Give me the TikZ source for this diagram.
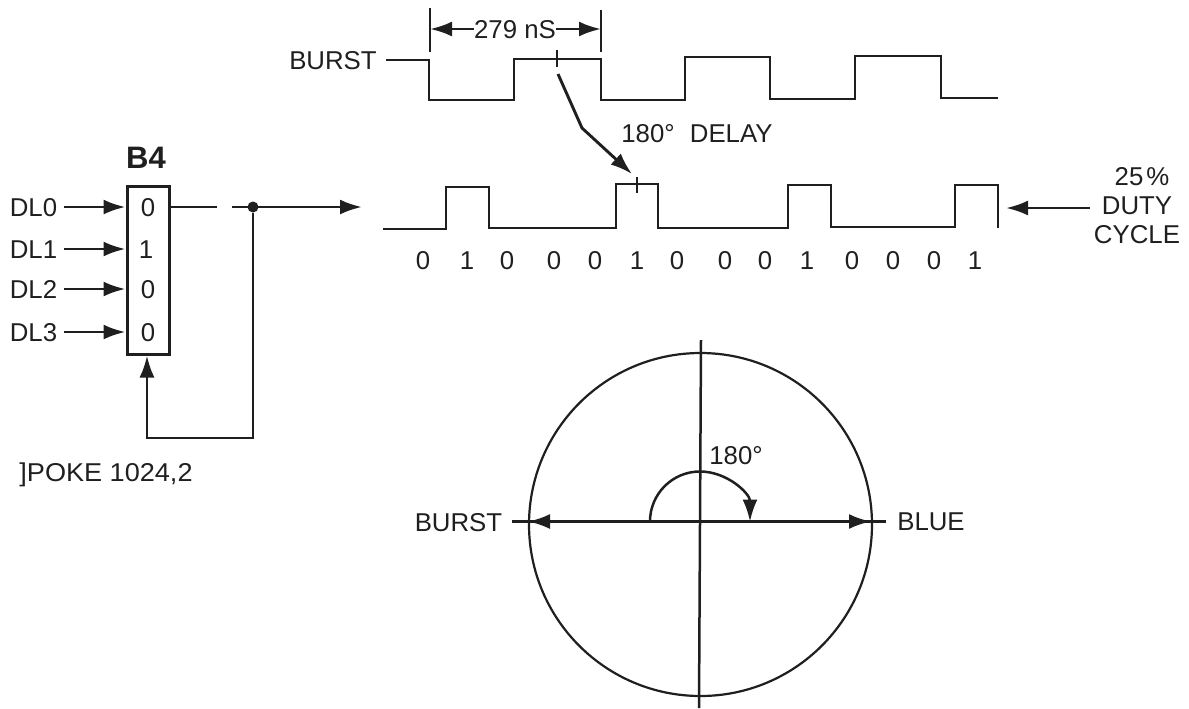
\documentclass[tikz,border=0pt]{standalone}
\usepackage{fontspec}
\setmainfont{Liberation Sans}
\usepackage{xcolor}
\usetikzlibrary{arrows.meta,positioning,calc}
\definecolor{tinta}{gray}{0.12}
\tikzset{
    rotulo/.style={
        inner sep=0pt,
        text=tinta,
        font=\fontsize{12.9}{14.5}\selectfont,
        text height=9.2pt,
        text depth=0pt
    },
    bloco/.style={
        rectangle,
        draw=tinta,
        line width=1.5pt,
        inner sep=0pt
    },
    linha/.style={draw=tinta, line width=1.45pt},
    onda/.style={linha, line join=miter},
    fina/.style={draw=tinta, line width=1.1pt},
    seta/.style={linha, -{Latex[length=11pt,width=7.5pt]}},
    ponto/.style={circle, fill=tinta, inner sep=0pt, minimum size=5.5pt}
}
\begin{document}
\begin{tikzpicture}[x=0.5pt,y=-0.5pt]

        \useasboundingbox (0,0) rectangle (1189,708);

        % burst waveform
        \node[rotulo] (burst) at (333,60) {BURST};
        \node[rotulo] (periodo) at (515,29) {279 nS};
        \node[rotulo] (atraso) at (697,133) {180°\hspace{4pt} DELAY};

        \coordinate (tickA1) at (430,8);
        \coordinate (tickA2) at (430,52);
        \coordinate (tickB1) at (601,10);
        \coordinate (tickB2) at (601,52);
        \coordinate (marcaA1) at (557,50);
        \coordinate (marcaA2) at (557,67);
        \coordinate (marcaB1) at (637,177);
        \coordinate (marcaB2) at (637,193);

        \draw[onda] (386,60) -- (429,60) -- (429,100) -- (514,100) -- (514,59)
            -- (601,59) -- (601,100) -- (685,100) -- (685,57) -- (770,57)
            -- (770,99) -- (855,99) -- (855,56) -- (941,56) -- (941,98) -- (998,98);

        \draw[linha] (tickA1) -- (tickA2);
        \draw[linha] (tickB1) -- (tickB2);
        \draw[seta] (periodo.west) -- (tickA1 |- periodo);
        \draw[seta] (periodo.east) -- (tickB1 |- periodo);
        \draw[linha] (marcaA1) -- (marcaA2);
        \draw[linha] (marcaB1) -- (marcaB2);

        \coordinate (saidaA) at (558,74);
        \coordinate (dobra) at (582,128);
        \coordinate (chegaA) at (632,174);
        \draw[seta] (saidaA) -- (dobra) -- (chegaA);

        % duty cycle waveform
        \draw[onda] (383,229) -- (446,229) -- (446,187) -- (489,187) -- (489,228)
            -- (616,228) -- (616,184) -- (658,184) -- (658,228) -- (788,228)
            -- (788,185) -- (831,185) -- (831,227) -- (955,227) -- (955,185)
            -- (998,185) -- (998,228);

        \node[rotulo] (b0) at (423,260) {0};
        \node[rotulo] (b1) at (467,260) {1};
        \node[rotulo] (b2) at (507,260) {0};
        \node[rotulo] (b3) at (554,260) {0};
        \node[rotulo] (b4) at (595,260) {0};
        \node[rotulo] (b5) at (637,260) {1};
        \node[rotulo] (b6) at (677,260) {0};
        \node[rotulo] (b7) at (725,260) {0};
        \node[rotulo] (b8) at (765,260) {0};
        \node[rotulo] (b9) at (807,260) {1};
        \node[rotulo] (b10) at (852,260) {0};
        \node[rotulo] (b11) at (893,260) {0};
        \node[rotulo] (b12) at (934,260) {0};
        \node[rotulo] (b13) at (975,260) {1};

        \node[rotulo, align=center, text height=, text depth=] (duty) at (1137,206)
        {\hspace*{5pt}25\kern1.5pt\%\\DUTY\\CYCLE};
        \coordinate (dutyFim) at (1006,208);
        \draw[seta] ($(duty.west |- dutyFim)+(-4,0)$) -- (dutyFim);

        % B4 latch
        \node[bloco, minimum width=21pt, minimum height=84pt] (latch) at (148,270) {};
        \node[rotulo, font=\fontsize{15.5}{17}\bfseries, text height=11pt] (titulo) at (146,157) {B4};

        \node[rotulo] (dl0) at (33.5,207) {DL0};
        \node[rotulo] (dl1) at (33.5,249) {DL1};
        \node[rotulo] (dl2) at (33.5,289) {DL2};
        \node[rotulo] (dl3) at (33.5,332) {DL3};

        \node[rotulo] (q0) at (148,207) {0};
        \node[rotulo] (q1) at (146,249) {1};
        \node[rotulo] (q2) at (148,289) {0};
        \node[rotulo] (q3) at (148,332) {0};

        \draw[seta] (dl0.east) ++(6,0) -- (latch.west |- dl0);
        \draw[seta] (dl1.east) ++(6,0) -- (latch.west |- dl1);
        \draw[seta] (dl2.east) ++(6,0) -- (latch.west |- dl2);
        \draw[seta] (dl3.east) ++(6,0) -- (latch.west |- dl3);

        \coordinate (quebraA) at (217,207);
        \coordinate (quebraB) at (232,207);
        \coordinate (saida) at (362,207);
        \node[ponto] (no) at (253,207) {};
        \coordinate (cantoA) at (253,438);
        \coordinate (cantoB) at (147,438);

        \draw[linha] (latch.east |- q0) -- (quebraA);
        \draw[seta] (quebraB) -- (saida);
        \draw[seta] (no) -- (cantoA) -- (cantoB) -- (cantoB |- latch.south);

        \node[rotulo, xscale=1.05] (poke) at (106,472) {]POKE 1024,2};

        % phase circle
        \node[fina, circle, inner sep=0pt, minimum size=171.5pt] (fase) at (700.5,524.5) {};
        \coordinate (norte) at (701,340);
        \coordinate (sul) at (699,708);
        \draw[linha, line width=1.25pt] (norte) -- (sul);

        \node[rotulo] (burstFase) at (458.5,522) {BURST};
        \node[rotulo] (azul) at (931,521) {BLUE};
        \node[rotulo] (angulo) at (736,455) {180°};

        \coordinate (esqA) at (512,521.5);
        \coordinate (esqB) at (528,521.5);
        \coordinate (dirB) at (871,521.5);
        \coordinate (dirA) at (886,521.5);
        \coordinate (arcoIni) at (650,521.5);

        \draw[linha] (esqA) -- (dirA);
        \draw[seta] (arcoIni) -- (esqB);
        \draw[seta] (arcoIni) -- (dirB);
        \draw[seta, line width=1.25pt] (arcoIni) arc[start angle=180, end angle=0, radius=25pt];

    \end{tikzpicture}
\end{document}
